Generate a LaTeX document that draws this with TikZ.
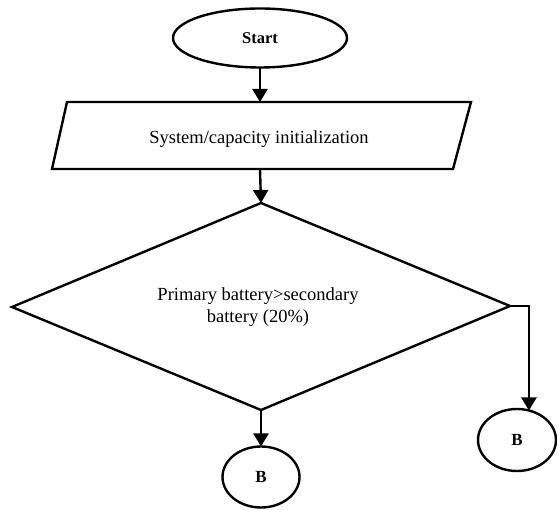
\documentclass[tikz,border=0pt]{standalone}
\usepackage{fontspec}
\setmainfont{Liberation Serif}
\usetikzlibrary{arrows.meta,shapes.geometric}
\begin{document}
\begin{tikzpicture}[x=1pt,y=-1pt,
  line width=2.4pt,
  arr/.style={-{Triangle[width=15pt,length=13pt]}},
  term/.style={draw,ellipse,inner sep=0pt,outer sep=0pt,font=\fontsize{17}{21}\selectfont\bfseries},
  txt/.style={font=\fontsize{18.5}{22}\selectfont,align=center,inner sep=0pt},
  shapeline/.style={draw,line join=miter}
]
\useasboundingbox (0,0) rectangle (557,510);
% Start
\node[term,minimum width=174pt,minimum height=59pt,font=\fontsize{16.5}{20}\selectfont\bfseries] (start) at (260,38) {Start};
% parallelogram
\coordinate (p1) at (67,102);
\coordinate (p2) at (471,102);
\coordinate (p3) at (453,169);
\coordinate (p4) at (52,169);
\draw[shapeline] (p1) -- (p2) -- (p3) -- (p4) -- cycle;
\node[txt] (init) at (259,139) {System/capacity initialization};
\coordinate (ptop) at (260,102);
\coordinate (pbot) at (260,169);
% diamond
\coordinate (dtop) at (261,203);
\coordinate (dright) at (510,306);
\coordinate (dbot) at (261,410);
\coordinate (dleft) at (12,307);
\draw[shapeline] (dtop) -- (dright) -- (dbot) -- (dleft) -- cycle;
\node[txt] (cond) at (258,307) {Primary battery>secondary\\battery (20\%)};
% connectors
\node[term,minimum width=77pt,minimum height=61pt] (b1) at (261,477) {B};
\node[term,minimum width=78pt,minimum height=62pt] (b2) at (517,440) {B};
\draw[arr] (start.south) -- (ptop);
\draw[arr] (pbot) -- (dtop);
\draw[arr] (dbot) -- (b1.north);
\draw[arr] (dright) -| (b2.68);
\end{tikzpicture}
\end{document}
